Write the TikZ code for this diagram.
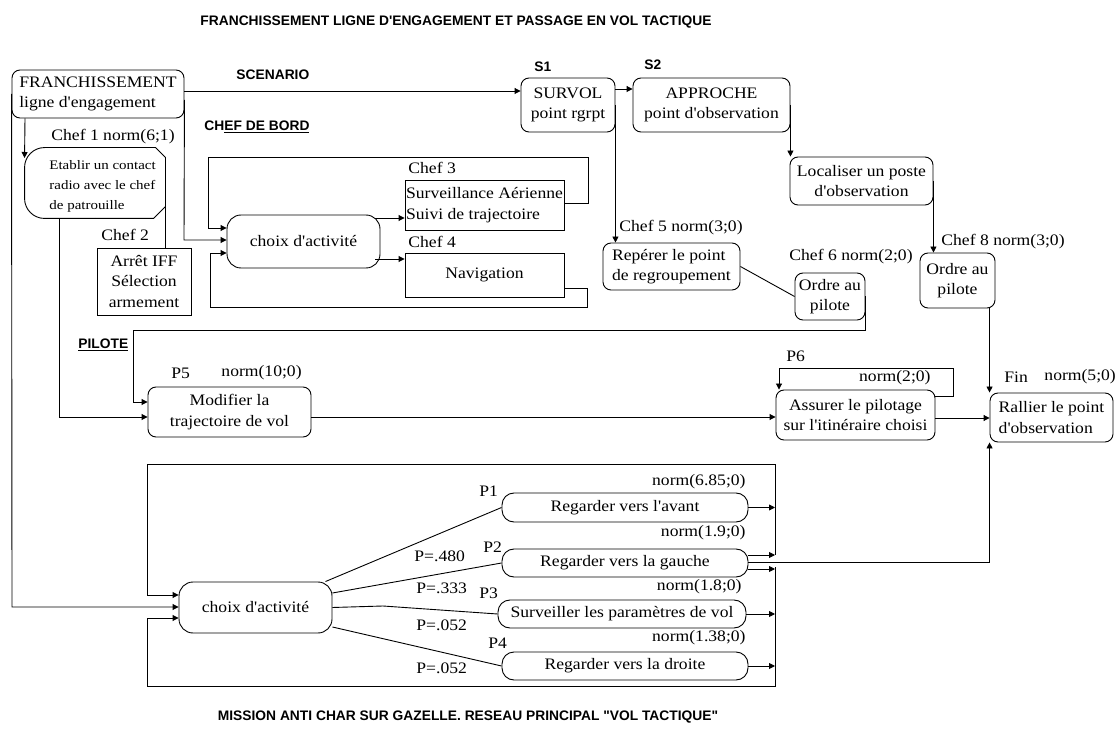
\documentclass[tikz,border=0pt]{standalone}
\usepackage{fontspec}
\setmainfont[FakeStretch=1.1, Ligatures=TeXOff]{Liberation Serif}
\newfontfamily\etabfont[FakeStretch=1.15, Ligatures=TeXOff]{Liberation Serif}
\newfontfamily\hdrfont[Ligatures=TeXOff]{Liberation Sans}
\usetikzlibrary{arrows.meta}
\begin{document}
\begin{tikzpicture}[x=1pt,y=-1pt, line width=0.9pt,
  every node/.style={inner sep=1pt, font=\fontsize{16}{20.5}\selectfont},
  rbox/.style={draw, rounded corners=8pt, align=center},
  sbox/.style={draw, align=center},
  cbox/.style={draw, rounded corners=14pt, align=center},
  pbox/.style={draw, rounded corners=12pt, align=center},
  lbl/.style={anchor=west},
  rlbl/.style={anchor=east},
  hdr/.style={font=\hdrfont\bfseries\fontsize{13.8}{16}\selectfont},
  arr/.style={-{Triangle[length=6pt,width=6pt]}},
  sz/.style 2 args={minimum width=#1, minimum height=#2},
]
\useasboundingbox (0,0) rectangle (1120,751);

% titles and section labels
\node[hdr] (title) at (456,22) {FRANCHISSEMENT LIGNE D'ENGAGEMENT ET PASSAGE EN VOL TACTIQUE};
\node[hdr] (btitle) at (468,717) {MISSION ANTI CHAR SUR GAZELLE. RESEAU PRINCIPAL "VOL TACTIQUE"};
\node[hdr, lbl] (scen) at (235,75) {SCENARIO};
\node[hdr, lbl] (cdb) at (203,127) {CH\underline{EF DE BORD}};
\node[hdr, lbl] (pil) at (77,345) {\underline{PILOTE}};
\node[hdr, lbl] (ls1) at (533,67) {S1};
\node[hdr, lbl] (ls2) at (643,65) {S2};

% boxes
\node[rbox, sz={172}{48}, align=left] (fr) at (98,94) {FRANCHISSEMENT\\ligne d'engagement};
\node[rbox, sz={94}{54}] (s1) at (568,105) {SURVOL\\point rgrpt};
\node[rbox, sz={157}{54}] (s2) at (711.5,105) {APPROCHE\\point d'observation};
\node[sz={140}{70}] (etab) at (95,183) {};
\node[anchor=west, align=left, font=\etabfont\fontsize{13}{20}\selectfont] (etabtxt) at (48,186) {Etablir un contact\\radio avec le chef\\de patrouille};
\node[sbox, sz={94}{67}] (iff) at (144,281.5) {Arrêt IFF\\Sélection\\armement};
\node[cbox, sz={153}{53}] (chA) at (303.5,241.5) {choix d'activité};
\node[sbox, sz={159}{50}, align=left] (c3) at (484.5,205) {Surveillance Aérienne\\Suivi de trajectoire};
\node[sbox, sz={159}{44}] (nav) at (484.5,275) {Navigation};
\node[rbox, sz={143}{48}] (loc) at (861.5,181) {Localiser un poste\\d'observation};
\node[rbox, sz={137}{47}, align=left] (rep) at (671.5,266.5) {Repérer le point\\de regroupement};
\node[rbox, sz={70}{47}] (o6) at (830,296.5) {Ordre au\\pilote};
\node[rbox, sz={75}{55}] (o8) at (957.5,280.5) {Ordre au\\pilote};
\node[rbox, sz={163}{50}] (mod) at (229.5,412) {Modifier la\\trajectoire de vol};
\node[rbox, sz={159}{50}] (ass) at (855.5,415) {Assurer le pilotage\\sur l'itinéraire choisi};
\node[rbox, sz={123}{49}, align=left] (ral) at (1051.5,417.5) {Rallier le point\\d'observation};
\node[cbox, sz={153}{51}] (chB) at (255.5,607.5) {choix d'activité};
\node[pbox, sz={246}{29}] (p1) at (625,507.5) {Regarder vers l'avant};
\node[pbox, sz={246}{28}] (p2) at (625,563) {Regarder vers la gauche};
\node[pbox, sz={248}{28}] (p3) at (622,614) {Surveiller les paramètres de vol};
\node[pbox, sz={246}{28}] (p4) at (625,666) {Regarder vers la droite};

% Etablir outline
\draw[rounded corners=20pt] (etab.north) -- (etab.north west) -- (etab.south west) -- (etab.south);
\draw (etab.north) -- ([xshift=-10pt]etab.north east) -- ([yshift=-10pt]etab.north east)
  -- ([yshift=12pt]etab.south east) -- ([xshift=-12pt]etab.south east) -- (etab.south);

% labels
\node[lbl] (lc1) at (50,137) {Chef 1 norm(6;1)};
\node[lbl] (lc2) at (100,235) {Chef 2};
\node[lbl] (lc3) at (407,168) {Chef 3};
\node[lbl] (lc4) at (407,242) {Chef 4};
\node[lbl] (lc5) at (618,228) {Chef 5 norm(3;0)};
\node[lbl] (lc6) at (788,257) {Chef 6 norm(2;0)};
\node[lbl] (lc8) at (940,242) {Chef 8 norm(3;0)};
\node[lbl] (lp5) at (170,373) {P5};
\node[lbl] (lp5n) at (220,373) {norm(10;0)};
\node[lbl] (lp6) at (785,356) {P6};
\node[rlbl] (lp6n) at (932,378) {norm(2;0)};
\node[lbl] (lfin) at (1003,377) {Fin};
\node[lbl] (lfinn) at (1043,377) {norm(5;0)};
\node[lbl] (lp1) at (478,491) {P1};
\node[lbl] (lp2) at (482,547) {P2};
\node[lbl] (lp3) at (478,593) {P3};
\node[lbl] (lp4) at (487,643) {P4};
\node[lbl] (q1) at (413,556) {P=.480};
\node[lbl] (q2) at (415,588) {P=.333};
\node[lbl] (q3) at (415,625) {P=.052};
\node[lbl] (q4) at (415,668) {P=.052};
\node[rlbl] (n1) at (747,482) {norm(6.85;0)};
\node[rlbl] (n2) at (747,533) {norm(1.9;0)};
\node[rlbl] (n3) at (743,587) {norm(1.8;0)};
\node[rlbl] (n4) at (747,638) {norm(1.38;0)};

% helper coordinates
\coordinate (chAo) at ([xshift=-5pt]chA.east);
\coordinate (chBo) at ([xshift=-7pt]chB.north east);
\coordinate (rl) at (775,464);

% connectors: scenario
\draw[arr] (fr.east |- 0,91) -- (s1.west |- 0,91);
\draw[arr] (s1.east |- 0,89) -- (s2.west |- 0,89);
\draw[arr] (s1.east) -- (s1.east |- rep.north);
\draw[arr] (s2.east) -- (s2.east |- loc.north);
\draw[arr] (loc.east) -- (loc.east |- o8.north);
\draw[arr] (ral.west |- o8.south) -- (ral.north west);
\draw[arr] (ass.east |- 0,418) -- (ral.west |- 0,418);
\draw (rep.east) -- (o6.west);
\draw[arr] (o6.east) -- (o6.east |- 0,330) -- (133,330) -- (133,402) -- (mod.west |- 0,402);
\draw[arr] (etab.south -| 59,0) -- (59,417) -- (mod.west |- 0,417);
\draw[arr] (fr.west) -- (12,607) -- (chB.west |- 0,607);
\draw[arr] (fr.south -| 25,0) -- (etab.west |- 0,158);
\draw[arr] (fr.east |- 0,100) -- (184,240) -- (chA.west |- 0,240);
\draw (etab.east |- 0,205) -- (etab.east |- iff.north);

% chef de bord
\draw[arr] (chAo |- 0,218) -- (c3.west |- 0,218);
\draw[arr] (chAo |- 0,259) -- (nav.west |- 0,259);
\draw[arr] (c3.east |- 0,203) -- (588,203) -- (588,157) -- (208,157) -- (208,228) -- (chA.west |- 0,228);
\draw[arr] (nav.east |- 0,288) -- (587,288) -- (587,307) -- (210,307) -- (210,253) -- (chA.west |- 0,253);

% pilote
\draw[arr] (mod.east |- 0,417) -- (ass.west |- 0,417);
\draw[arr] (ass.east |- 0,396) -- (953,396) -- (953,368) -- (779,368) -- (ass.north -| 779,0);

% lower network
\draw (chBo) -- (p1.west);
\draw (chB.east |- 0,593) -- (p2.west);
\draw (chB.east) -- (383,606) -- (p3.west);
\draw (chB.east |- 0,627) -- (p4.west);
\draw[arr] (p1.east) -- (p1.east -| rl);
\draw[arr] (p2.east |- 0,555) -- (rl |- 0,555);
\draw[arr] (p2.east |- 0,569) -- (rl |- 0,569);
\draw[arr] (p3.east) -- (p3.east -| rl);
\draw[arr] (p4.east) -- (p4.east -| rl);
\draw[arr] (rl |- 0,555) -- (rl) -- (147,464) -- (147,595) -- (chB.west |- 0,595);
\draw[arr] (rl |- 0,567) -- (775,686) -- (147,686) -- (147,618) -- (chB.west |- 0,618);
\draw[arr] (p2.east |- 0,562) -- (ral.south west |- 0,562) -- (ral.south west);
\end{tikzpicture}
\end{document}
